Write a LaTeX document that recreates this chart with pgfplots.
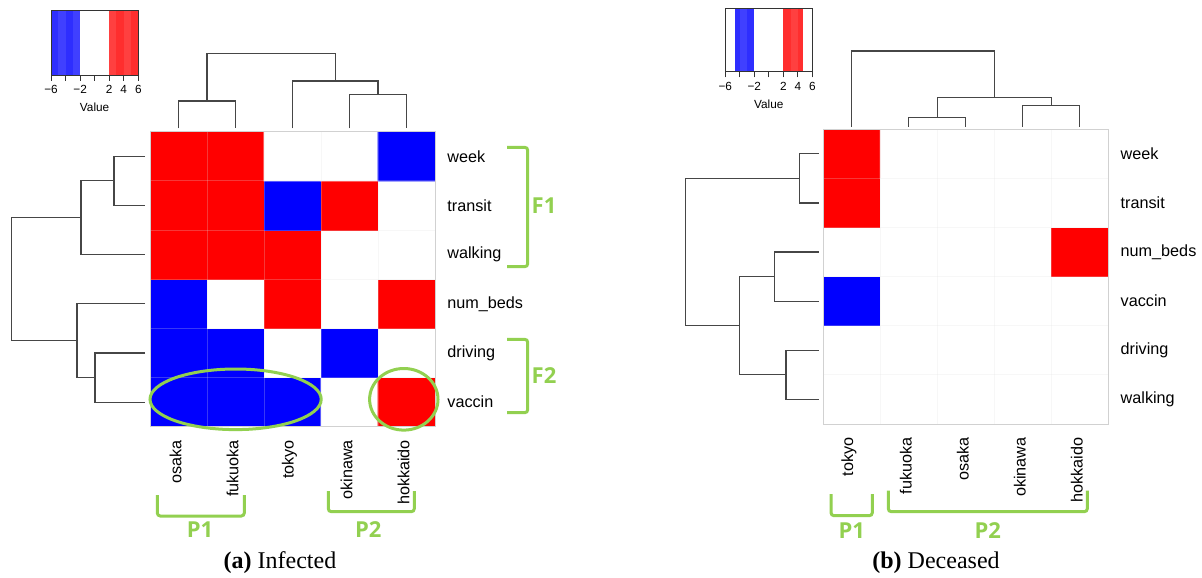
\documentclass[border=0pt]{standalone}
\usepackage{fontspec}
\setmainfont{Liberation Sans}
\newfontfamily\capfont{Liberation Serif}
\newfontfamily\annfont{Open Sans}
\usepackage{pgfplots}
\pgfplotsset{compat=1.18}
\definecolor{annot}{RGB}{146,208,80}
\definecolor{keyblueA}{RGB}{46,46,255}
\definecolor{keyblueB}{RGB}{64,64,255}
\definecolor{keyredA}{RGB}{255,46,46}
\definecolor{keyredB}{RGB}{255,64,64}
\definecolor{dendro}{RGB}{70,70,70}

\pgfplotsset{
  heat/.style={
    scale only axis, anchor=center, width=142.5pt,
    xmin=-0.5, xmax=4.5, ymin=-0.5, ymax=5.5,
    axis line style={black!18, line width=0.4pt},
    xtick={0,...,4}, ytick={0,...,5},
    major tick length=0pt,
    minor xtick={0.5,1.5,2.5,3.5}, minor ytick={0.5,1.5,2.5,3.5,4.5},
    minor tick length=0pt,
    xminorgrids=true, yminorgrids=true,
    minor grid style={black!12, opacity=0.25, line width=0.5pt},
    axis on top,
    yticklabel pos=right,
    yticklabel style={anchor=west, inner sep=0pt, xshift=6pt, font=\fontsize{8.1}{9}\selectfont},
    xticklabel style={yshift=-6.5pt, xshift=-1.5pt, rotate=90, anchor=east, inner sep=0pt, font=\fontsize{8.1}{9}\selectfont},
    colormap={rwb}{rgb255=(0,0,255) rgb255=(255,255,255) rgb255=(255,0,0)},
    point meta min=-4, point meta max=4,
  },
  dendro/.style={scale only axis, anchor=center, hide axis, clip=false},
  dline/.style={draw=dendro, line width=0.6pt, mark=none},
  key/.style={
    scale only axis, anchor=center,
    xmin=-6, xmax=6, ymin=0, ymax=1,
    ytick=\empty, xtick={-6,-4,-2,0,2,4,6},
    xticklabels={−6,,−2,,2,4,6},
    xtick pos=bottom, tick align=outside, major tick length=2.7pt,
    axis line style={black!80, line width=0.5pt},
    tick style={black!80, line width=0.5pt},
    xticklabel style={font=\fontsize{5.9}{6.5}\selectfont, inner sep=0pt, anchor=north, yshift=-2.3pt},
    xlabel=Value,
    xlabel style={font=\fontsize{5.9}{6.5}\selectfont, at={(axis description cs:0.5,-0.5)}, anchor=center, inner sep=0pt},
    axis on top,
  },
}

\begin{document}
\begin{tikzpicture}
\useasboundingbox (0,0) rectangle (601pt,-288.5pt);

% ---------- (a) Infected ----------
\begin{axis}[key, at={(47.325pt,-21.5pt)}, width=43.65pt, height=32.3pt]
  \addplot[fill=keyblueA, draw=none] coordinates {(-6,1) (-5,1)} \closedcycle;
  \addplot[fill=keyblueB, draw=none] coordinates {(-5,1) (-4,1)} \closedcycle;
  \addplot[fill=keyblueA, draw=none] coordinates {(-4,1) (-3,1)} \closedcycle;
  \addplot[fill=keyblueB, draw=none] coordinates {(-3,1) (-2,1)} \closedcycle;
  \addplot[fill=keyredB, draw=none] coordinates {(2,1) (3,1)} \closedcycle;
  \addplot[fill=keyredA, draw=none] coordinates {(3,1) (4,1)} \closedcycle;
  \addplot[fill=keyredB, draw=none] coordinates {(4,1) (5,1)} \closedcycle;
  \addplot[fill=keyredA, draw=none] coordinates {(5,1) (6,1)} \closedcycle;
\end{axis}

\begin{axis}[dendro, at={(146.25pt,-45.4pt)}, width=142.5pt, height=37.5pt,
    xmin=-0.5, xmax=4.5, ymin=0, ymax=75]
  \addplot[dline] coordinates {(0,0) (0,27.3) (1,27.3) (1,0)};
  \addplot[dline] coordinates {(3,0) (3,34) (4,34) (4,0)};
  \addplot[dline] coordinates {(2,0) (2,47.3) (3.5,47.3) (3.5,34)};
  \addplot[dline] coordinates {(0.5,27.3) (0.5,75) (2.75,75) (2.75,47.3)};
\end{axis}

\begin{axis}[dendro, at={(39.125pt,-139.6pt)}, width=66.75pt, height=147.5pt,
    x dir=reverse, xmin=0, xmax=133.5, ymin=-0.5, ymax=5.5]
  \addplot[dline] coordinates {(0,5) (31,5) (31,4) (0,4)};
  \addplot[dline] coordinates {(31,4.5) (64,4.5) (64,3) (0,3)};
  \addplot[dline] coordinates {(0,1) (50,1) (50,0) (0,0)};
  \addplot[dline] coordinates {(0,2) (68,2) (68,0.5) (50,0.5)};
  \addplot[dline] coordinates {(64,3.75) (133.5,3.75) (133.5,1.25) (68,1.25)};
\end{axis}

\begin{axis}[heat, at={(146.25pt,-139.6pt)}, height=147.5pt,
    xticklabels={osaka,fukuoka,tokyo,okinawa,hokkaido},
    yticklabels={vaccin,driving,num\_beds,walking,transit,week}]
  \addplot[matrix plot*, mesh/cols=5, point meta=explicit] table[meta=v] {
    x y v
    0 0 -4
    1 0 -4
    2 0 -4
    3 0 0
    4 0 4
    0 1 -4
    1 1 -4
    2 1 0
    3 1 -4
    4 1 0
    0 2 -4
    1 2 0
    2 2 4
    3 2 0
    4 2 4
    0 3 4
    1 3 4
    2 3 4
    3 3 0
    4 3 0
    0 4 4
    1 4 4
    2 4 -4
    3 4 4
    4 4 0
    0 5 4
    1 5 4
    2 5 0
    3 5 0
    4 5 -4
  };
\end{axis}

% ---------- (b) Deceased ----------
\begin{axis}[key, at={(384.4pt,-20.075pt)}, width=43.5pt, height=31.85pt]
  \addplot[fill=keyblueA, draw=none] coordinates {(-4.67,1) (-4,1)} \closedcycle;
  \addplot[fill=keyblueB, draw=none] coordinates {(-4,1) (-3,1)} \closedcycle;
  \addplot[fill=keyblueA, draw=none] coordinates {(-3,1) (-2,1)} \closedcycle;
  \addplot[fill=keyredA, draw=none] coordinates {(2,1) (3,1)} \closedcycle;
  \addplot[fill=keyredB, draw=none] coordinates {(3,1) (4,1)} \closedcycle;
  \addplot[fill=keyredA, draw=none] coordinates {(4,1) (4.67,1)} \closedcycle;
\end{axis}

\begin{axis}[dendro, at={(482.9pt,-44.425pt)}, width=142.5pt, height=37.85pt,
    xmin=-0.5, xmax=4.5, ymin=0, ymax=75.7]
  \addplot[dline] coordinates {(1,0) (1,9) (2,9) (2,0)};
  \addplot[dline] coordinates {(3,0) (3,21.4) (4,21.4) (4,0)};
  \addplot[dline] coordinates {(1.5,9) (1.5,29.4) (3.5,29.4) (3.5,21.4)};
  \addplot[dline] coordinates {(0,0) (0,75.7) (2.5,75.7) (2.5,29.4)};
\end{axis}

\begin{axis}[dendro, at={(376pt,-138.325pt)}, width=66.7pt, height=147.35pt,
    x dir=reverse, xmin=0, xmax=133.4, ymin=-0.5, ymax=5.5]
  \addplot[dline] coordinates {(0,5) (19.4,5) (19.4,4) (0,4)};
  \addplot[dline] coordinates {(0,3) (44,3) (44,2) (0,2)};
  \addplot[dline] coordinates {(0,1) (32.7,1) (32.7,0) (0,0)};
  \addplot[dline] coordinates {(44,2.5) (79.4,2.5) (79.4,0.5) (32.7,0.5)};
  \addplot[dline] coordinates {(19.4,4.5) (133.4,4.5) (133.4,1.5) (79.4,1.5)};
\end{axis}

\begin{axis}[heat, at={(482.9pt,-138.325pt)}, height=147.35pt,
    xticklabels={tokyo,fukuoka,osaka,okinawa,hokkaido},
    yticklabels={walking,driving,vaccin,num\_beds,transit,week}]
  \addplot[matrix plot*, mesh/cols=5, point meta=explicit] table[meta=v] {
    x y v
    0 0 0
    1 0 0
    2 0 0
    3 0 0
    4 0 0
    0 1 0
    1 1 0
    2 1 0
    3 1 0
    4 1 0
    0 2 -4
    1 2 0
    2 2 0
    3 2 0
    4 2 0
    0 3 0
    1 3 0
    2 3 0
    3 3 0
    4 3 4
    0 4 4
    1 4 0
    2 4 0
    3 4 0
    4 4 0
    0 5 4
    1 5 0
    2 5 0
    3 5 0
    4 5 0
  };
\end{axis}

% ---------- annotations ----------
\begin{scope}[x=0.5pt, y=-0.5pt]
  \begin{scope}[draw=annot, line width=1.5pt, rounded corners=1.5pt]
    \draw (507,147.3) -- (527.7,147.3) -- (527.7,266.7) -- (507,266.7);
    \draw (507,339.3) -- (527.7,339.3) -- (527.7,412.7) -- (507,412.7);
    \draw (157.3,495) -- (157.3,516) -- (244.3,516) -- (244.3,495);
    \draw (328.3,491) -- (328.3,511.7) -- (414.3,511.7) -- (414.3,491);
    \draw (831,494) -- (831,515.7) -- (872.3,515.7) -- (872.3,494);
    \draw (888.3,490.7) -- (888.3,511.7) -- (1087.3,511.7) -- (1087.3,490.7);
  \end{scope}
  \draw[annot, line width=1.5pt] (235.6,399.3) ellipse [x radius=85.6, y radius=30.3];
  \draw[annot, line width=1.5pt] (403.8,399.3) ellipse [x radius=34.2, y radius=30.8];
  \begin{scope}[every node/.style={text=annot, font=\annfont\bfseries\fontsize{11}{13}\selectfont}]
    \node at (544,206) {F1};
    \node at (544,375.3) {F2};
    \node at (200,530) {P1};
    \node at (368.3,530) {P2};
    \node at (851.7,531) {P1};
    \node at (987.7,531) {P2};
  \end{scope}
  \node[font=\capfont\fontsize{12}{14}\selectfont] at (280,563) {\textbf{(a)} Infected};
  \node[font=\capfont\fontsize{12}{14}\selectfont] at (936,563) {\textbf{(b)} Deceased};
\end{scope}
\end{tikzpicture}
\end{document}
